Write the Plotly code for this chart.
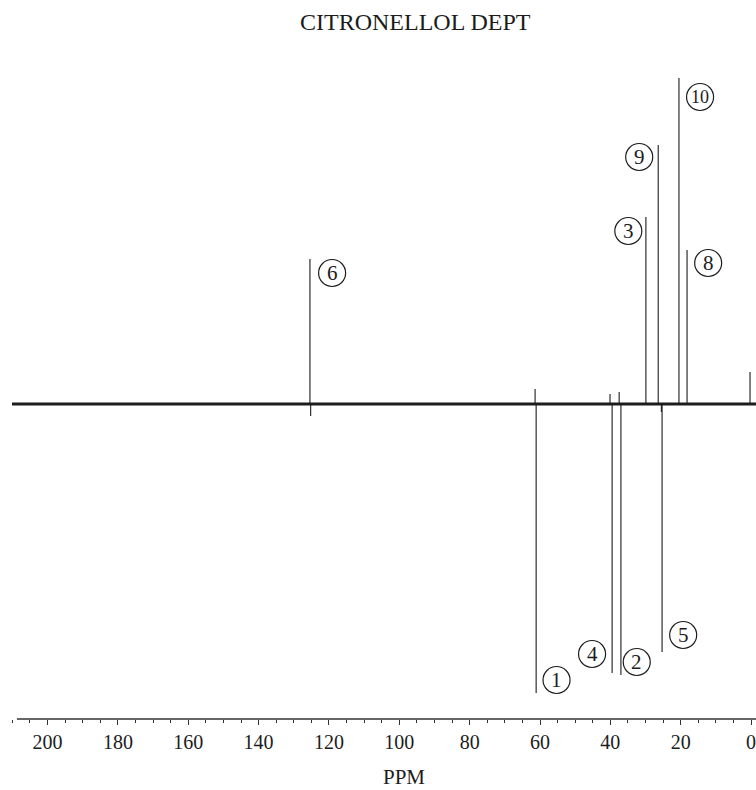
import plotly.graph_objects as go

# ---- data ----
peak_labels = ["6", "1", "4", "2", "3", "9", "5", "10", "8", "TMS"]
peak_ppm = [125.4, 61.1, 39.5, 37.0, 29.9, 26.4, 25.3, 20.5, 18.2, 0.3]
peak_int = [145, -289, -269, -271, 187, 259, -248, 326, 154, 32]

# small dispersive artefacts next to the big peaks
art_ppm = [125.2, 61.4, 40.1, 37.5, 25.5]
art_int = [-12, 15, 10, 12, -8]

ppm_min, ppm_max = -1.4, 210.1

# circled label placement (ppm, intensity) for numbered peaks
label_names = ["10", "9", "3", "8", "6", "1", "4", "2", "5"]
label_ppm = [14.5, 31.8, 34.9, 12.2, 119.1, 55.3, 45.2, 32.5, 19.3]
label_int = [307, 247, 173, 141, 131, -276, -250, -258, -231]

FONT = "Liberation Serif"
INK = "#1c1c1c"

# stick trace
sx, sy = [], []
for p, v in zip(peak_ppm + art_ppm, peak_int + art_int):
    sx += [p, p, None]
    sy += [0, v, None]

fig = go.Figure()
fig.add_trace(go.Scatter(x=[ppm_max, ppm_min], y=[0, 0], mode="lines",
                         line=dict(color=INK, width=3.2), hoverinfo="skip"))
fig.add_trace(go.Scatter(x=sx, y=sy, mode="lines",
                         line=dict(color=INK, width=1.1), hoverinfo="skip"))

shapes = []
annotations = []
for name, p, v in zip(label_names, label_ppm, label_int):
    shapes.append(dict(type="circle", xref="x", yref="y", xsizemode="pixel", ysizemode="pixel",
                       xanchor=p, yanchor=v, x0=-13.5, x1=13.5, y0=-13.5, y1=13.5,
                       line=dict(color=INK, width=1.2)))
    annotations.append(dict(x=p, y=v, xref="x", yref="y", text=name, showarrow=False,
                            font=dict(family=FONT, size=21 if len(name) == 1 else 18, color=INK),
                            xanchor="center", yanchor="middle"))

# axis line (starts slightly right of baseline start)
shapes.append(dict(type="line", xref="x", yref="paper", x0=208.7, x1=ppm_min, y0=0, y1=0,
                   line=dict(color="#333333", width=1.5)))

annotations.append(dict(text="CITRONELLOL DEPT", xref="paper", yref="paper", x=0.543, y=1.058,
                        showarrow=False, xanchor="center", yanchor="middle",
                        font=dict(family=FONT, size=24, color=INK)))
annotations.append(dict(text="PPM", xref="paper", yref="paper", x=0.527, y=-0.088,
                        showarrow=False, xanchor="center", yanchor="middle", borderpad=0,
                        font=dict(family=FONT, size=21, color=INK)))

fig.update_layout(
    width=756, height=790,
    margin=dict(l=12, r=0, t=60, b=71),
    paper_bgcolor="white", plot_bgcolor="white",
    showlegend=False,
    shapes=shapes, annotations=annotations,
    xaxis=dict(range=[ppm_max, ppm_min], showgrid=False, zeroline=False, showline=False,
               automargin=False, ticklabeloverflow="allow",
               tickmode="linear", tick0=0, dtick=20, ticks="outside", ticklen=5,
               tickwidth=1, tickcolor="#333333",
               minor=dict(tickmode="linear", tick0=0, dtick=5, ticks="outside", ticklen=3,
                          tickwidth=1, tickcolor="#333333", showgrid=False),
               tickfont=dict(family=FONT, size=20, color=INK)),
    yaxis=dict(range=[-315, 344], visible=False, showgrid=False, zeroline=False),
)

fig.write_html("out.html",
               config={"displayModeBar": False},
               post_script="document.body.style.margin='0';document.body.style.overflow='hidden';")
